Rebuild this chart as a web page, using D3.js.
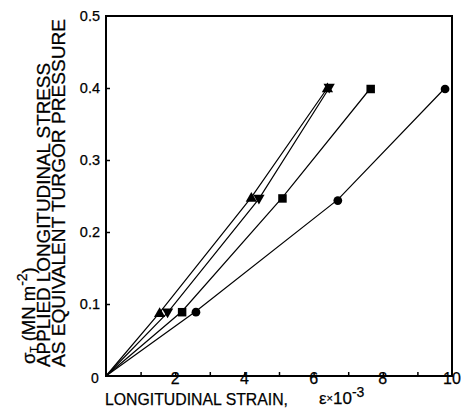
<!DOCTYPE html>
<html lang="en">
<head>
    <meta charset="UTF-8">
    <title>Longitudinal stress vs strain</title>
    <script src="https://d3js.org/d3.v7.min.js"></script>
    <style>
        body { margin: 0; background: #fff; }
        text { font-family: "Liberation Sans", Arial, sans-serif; fill: #000; stroke: #000; stroke-width: 0.25px; }
        .line { fill: none; stroke: #000; stroke-width: 1.2px; }
    </style>
</head>
<body>
    <svg width="461" height="418"></svg>
    <script>
        // Strain values (x 10^-3) and stress values (MN m^-2)
        const circleX = [0, 2.6, 6.7, 9.8];
        const circleY = [0, 0.09, 0.245, 0.40];
        const squareX = [0, 2.2, 5.1, 7.65];
        const squareY = [0, 0.09, 0.248, 0.40];
        const triUpX = [0, 1.55, 4.2, 6.4];
        const triUpY = [0, 0.088, 0.248, 0.40];
        const triDownX = [0, 1.78, 4.42, 6.45];
        const triDownY = [0, 0.088, 0.246, 0.40];

        const xTickLabels = [2, 4, 6, 8, 10];
        const yTickLabels = [0.1, 0.2, 0.3, 0.4, 0.5];

        const svg = d3.select("svg");

        const x = d3.scaleLinear().domain([0, 10]).range([106, 452]);
        const y = d3.scaleLinear().domain([0, 0.5]).range([376, 16]);

        const series = [
            {xs: circleX, ys: circleY, sym: d3.symbolCircle, size: 60, rot: 0},
            {xs: squareX, ys: squareY, sym: d3.symbolSquare, size: 72, rot: 0},
            {xs: triUpX, ys: triUpY, sym: d3.symbolTriangle, size: 55, rot: 0},
            {xs: triDownX, ys: triDownY, sym: d3.symbolTriangle, size: 55, rot: 180}
        ];

        const line = d3.line().x(d => x(d[0])).y(d => y(d[1]));

        // frame
        svg.append("rect")
            .attr("x", x(0)).attr("y", y(0.5))
            .attr("width", x(10) - x(0)).attr("height", y(0) - y(0.5))
            .attr("fill", "none").attr("stroke", "#000").attr("stroke-width", 2);

        // inward ticks
        svg.append("g")
            .attr("transform", `translate(0,${y(0)})`)
            .call(d3.axisTop(x).tickValues(d3.range(1, 10)).tickSize(4).tickFormat(""))
            .call(g => g.select(".domain").remove())
            .call(g => g.selectAll("line").attr("stroke-width", 1.5));
        svg.append("g")
            .attr("transform", `translate(${x(0)},0)`)
            .call(d3.axisRight(y).tickValues([0.1, 0.2, 0.3, 0.4]).tickSize(4).tickFormat(""))
            .call(g => g.select(".domain").remove())
            .call(g => g.selectAll("line").attr("stroke-width", 1.5));

        // tick labels
        svg.selectAll(".xl").data(xTickLabels).enter().append("text")
            .attr("x", d => x(d)).attr("y", 384)
            .attr("text-anchor", "middle").style("font-size", "16px")
            .text(d => d);
        svg.append("text").attr("x", 95).attr("y", 383)
            .attr("text-anchor", "middle").style("font-size", "14px").text("0");
        svg.selectAll(".yl").data(yTickLabels).enter().append("text")
            .attr("x", 100).attr("y", d => y(d) + 5)
            .attr("text-anchor", "end").style("font-size", "14.5px")
            .text(d => d.toFixed(1));

        // lines and markers
        series.forEach(s => {
            const pts = s.xs.map((v, i) => [v, s.ys[i]]);
            svg.append("path").datum(pts).attr("class", "line").attr("d", line);
            svg.selectAll(null).data(pts.slice(1)).enter().append("path")
                .attr("d", d3.symbol().type(s.sym).size(s.size))
                .attr("transform", d => `translate(${x(d[0])},${y(d[1]) + (s.rot ? -1 : 1)}) rotate(${s.rot})`)
                .attr("fill", "#000");
        });

        // axis titles
        svg.append("text").attr("x", 105).attr("y", 405)
            .attr("textLength", 183).attr("lengthAdjust", "spacingAndGlyphs")
            .style("font-size", "17px").text("LONGITUDINAL STRAIN,");
        const eps = svg.append("text").attr("x", 319).attr("y", 404).style("font-size", "17px");
        eps.append("tspan").text("\u03b5");
        eps.append("tspan").style("font-size", "11px").attr("dy", -2).text("\u00d7");
        eps.append("tspan").attr("dy", 2).text("10");
        eps.append("tspan").attr("dy", -7).style("font-size", "14px").text("-3");

        const yl = [
            {t: "APPLIED LONGITUDINAL STRESS", bx: 50, len: 304},
            {t: "AS EQUIVALENT TURGOR PRESSURE", bx: 65, len: 348}
        ];
        yl.forEach(l => {
            svg.append("text")
                .attr("transform", `translate(${l.bx},367) rotate(-90)`)
                .attr("textLength", l.len).attr("lengthAdjust", "spacingAndGlyphs")
                .style("font-size", "18.5px").text(l.t);
        });
        const sig = svg.append("text")
            .attr("transform", "translate(35,364) rotate(-90)")
            .style("font-size", "18.5px");
        sig.append("tspan").text("\u03c3");
        sig.append("tspan").attr("dy", 3).style("font-size", "10px").text("T");
        sig.append("tspan").attr("dy", -3).text(" (MN m");
        sig.append("tspan").attr("dy", -8).style("font-size", "14px").text("-2");
        sig.append("tspan").attr("dy", 8).text(")");
    </script>
</body>
</html>
